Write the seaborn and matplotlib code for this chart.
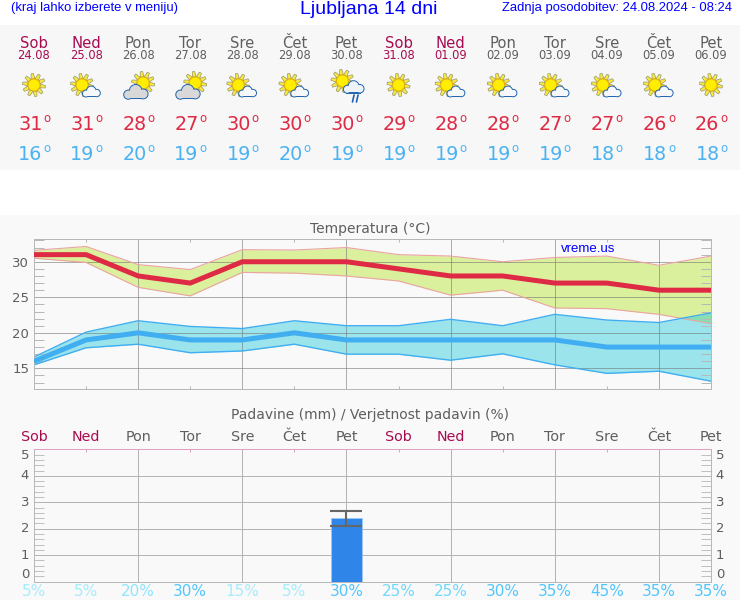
import numpy as np
import pandas as pd
import matplotlib
matplotlib.use("Agg")
import matplotlib.pyplot as plt
from matplotlib.patches import Circle, Rectangle, Polygon
import seaborn as sns

days = ["Sob", "Ned", "Pon", "Tor", "Sre", "Čet", "Pet", "Sob", "Ned", "Pon", "Tor", "Sre", "Čet", "Pet"]
dates = ["24.08", "25.08", "26.08", "27.08", "28.08", "29.08", "30.08", "31.08", "01.09", "02.09", "03.09", "04.09", "05.09", "06.09"]
icons = ["sun", "part", "most", "most", "part", "part", "rain", "sun", "part", "part", "part", "part", "part", "sun"]
t_max = [31, 31, 28, 27, 30, 30, 30, 29, 28, 28, 27, 27, 26, 26]
t_min = [16, 19, 20, 19, 19, 20, 19, 19, 19, 19, 19, 18, 18, 18]
max_hi = [31.6, 32.15, 29.6, 28.9, 31.7, 31.65, 32.0, 31.0, 30.8, 30.0, 30.6, 30.8, 29.5, 30.8]
max_lo = [30.5, 29.9, 26.4, 25.2, 28.5, 28.4, 28.0, 27.3, 25.3, 26.0, 23.5, 23.4, 22.6, 21.3]
min_hi = [16.6, 20.1, 21.7, 20.9, 20.6, 21.7, 21.0, 21.0, 21.9, 21.0, 22.6, 21.8, 21.45, 22.8]
min_lo = [15.5, 17.9, 18.4, 17.2, 17.45, 18.4, 17.0, 17.0, 16.15, 17.05, 15.5, 14.3, 14.6, 13.2]
rain = [0, 0, 0, 0, 0, 0, 2.4, 0, 0, 0, 0, 0, 0, 0]
rain_hi = 2.67
rain_lo = 2.1
prob = [5, 5, 20, 30, 15, 5, 30, 25, 25, 30, 35, 45, 35, 35]

RED = "#de2a44"
BLUE = "#40aef0"
WEEKEND = "#a80a50"
GRAY = "#5e5e5e"
LINK = "#0000ff"
SANS = "Liberation Sans"
W, H = 740, 600
PX = 0.72

sns.set_theme(style="white")
plt.rcParams["font.family"] = ["DejaVu Sans"]
fig = plt.figure(figsize=(W / 100, H / 100), dpi=100, facecolor="white")


def px_axes(x0, y0, x1, y1, **kw):
    return fig.add_axes([x0 / W, 1 - y1 / H, (x1 - x0) / W, (y1 - y0) / H], **kw)


bg = fig.add_axes([0, 0, 1, 1], zorder=0)
bg.set_xlim(0, W)
bg.set_ylim(H, 0)
bg.axis("off")
bg.add_patch(Rectangle((0, 25), W, 145, fc="#f7f7f7", ec="none"))
bg.add_patch(Rectangle((0, 215), W, 385, fc="#f9f9f9", ec="none"))

top = fig.add_axes([0, 0, 1, 1], zorder=5, facecolor="none")
top.set_xlim(0, W)
top.set_ylim(H, 0)
top.axis("off")


def draw_sun(cx, cy, r=6.0, ray=11.5):
    for a in np.arange(0, 360, 36) + 9:
        t = np.radians(a)
        d = np.array([np.cos(t), np.sin(t)])
        n = np.array([-d[1], d[0]])
        c = np.array([cx, cy])
        pts = [c + d * (r + .2) + n * 1.9, c + d * ray + n * 1.2,
               c + d * ray - n * 1.2, c + d * (r + .2) - n * 1.9]
        top.add_patch(Polygon(pts, fc="#f6e840", ec="#8f8f6a", lw=.45, zorder=2))
    top.add_patch(Circle((cx, cy), r, fc="#ffee00", ec="#eeb000", lw=.7, zorder=3))


def draw_cloud(cx, cy, w, fill, edge="#1f64ae"):
    s = w / 28
    parts = [(-8.8, 2.4, 4.6), (-0.5, -1.8, 6.6), (7.8, 1.6, 5.0)]
    for dx, dy, r in parts:
        top.add_patch(Circle((cx + dx * s, cy + dy * s), r * s, fc=fill, ec=edge, lw=1.4, zorder=4))
    top.add_patch(Rectangle((cx - 8.8 * s, cy + 1 * s), 16.6 * s, 5.7 * s, fc=fill, ec=edge, lw=1.4, zorder=4))
    for dx, dy, r in parts:
        top.add_patch(Circle((cx + dx * s, cy + dy * s), r * s, fc=fill, ec="none", zorder=4.2))
    top.add_patch(Rectangle((cx - 8.8 * s, cy + 1 * s), 16.6 * s, 5 * s, fc=fill, ec="none", zorder=4.2))


def draw_icon(kind, x):
    if kind == "sun":
        draw_sun(x, 85)
    elif kind == "part":
        draw_sun(x - 4, 85)
        draw_cloud(x + 5.5, 92, 18, "#f6f8fb")
    elif kind == "most":
        draw_sun(x + 5, 83)
        draw_cloud(x - 2, 92.5, 25, "#d8d8d8")
    else:
        draw_sun(x - 4, 81)
        draw_cloud(x + 7.5, 87.5, 21, "#eef3f8")
        for dx in (6, 10):
            top.plot([x + dx, x + dx + 1.6], [102, 95], color="#1f64ae", lw=1.2, zorder=4)


def temp_text(x, y, value, color):
    top.text(x + 8.5, y, str(value), color=color, fontsize=13.8, ha="right", va="center")
    top.text(x + 9, y - 6.5, "o", color=color, fontsize=8.5, ha="left", va="center")


col_x = 34 + np.arange(14) * (677 / 13)
for i, x in enumerate(col_x):
    c = WEEKEND if days[i] in ("Sob", "Ned") else GRAY
    top.text(x, 43, days[i], color=c, fontsize=10.6, ha="center", va="center")
    top.text(x, 55.5, dates[i], color=c, fontsize=8.3, ha="center", va="center")
    draw_icon(icons[i], x)
    temp_text(x, 125, t_max[i], RED)
    temp_text(x, 155, t_min[i], "#4ab2f2")

top.text(11, 8.5, "(kraj lahko izberete v meniju)", color=LINK, family=SANS, fontsize=9.4, ha="left", va="center")
top.text(369, 10, "Ljubljana 14 dni", color=LINK, family=SANS, fontsize=14, ha="center", va="center")
top.text(732, 8.5, "Zadnja posodobitev: 24.08.2024 - 08:24", color=LINK, family=SANS, fontsize=9.33, ha="right", va="center")
top.text(370, 229, "Temperatura (°C)", color=GRAY, fontsize=10, ha="center", va="center")
top.text(370, 415, "Padavine (mm) / Verjetnost padavin (%)", color=GRAY, fontsize=10, ha="center", va="center")
top.text(561, 249, "vreme.us", color=LINK, family=SANS, fontsize=9.5, ha="left", va="center")

idx = np.arange(14)
frame = pd.DataFrame({"idx": idx, "tmax": t_max, "tmin": t_min, "rain": rain})

# temperature panel
ax = px_axes(34, 239, 711, 389, zorder=2, facecolor="none")
ax.fill_between(idx, max_lo, max_hi, color="#dbf09c", lw=0, zorder=1)
ax.fill_between(idx, min_lo, min_hi, color=(15 / 255, 197 / 255, 217 / 255, .4), lw=0, zorder=1.1)
sns.lineplot(x=idx, y=max_hi, ax=ax, color="#eba3a3", lw=.8, errorbar=None, zorder=1.6)
sns.lineplot(x=idx, y=max_lo, ax=ax, color="#eba3a3", lw=.8, errorbar=None, zorder=1.6)
sns.lineplot(x=idx, y=min_hi, ax=ax, color=BLUE, lw=1.0, errorbar=None, zorder=1.6)
sns.lineplot(x=idx, y=min_lo, ax=ax, color=BLUE, lw=1.0, errorbar=None, zorder=1.6)
sns.lineplot(data=frame, x="idx", y="tmin", ax=ax, color=BLUE, lw=3.6, errorbar=None, zorder=3,
             solid_capstyle="butt", solid_joinstyle="miter")
sns.lineplot(data=frame, x="idx", y="tmax", ax=ax, color=RED, lw=3.6, errorbar=None, zorder=3,
             solid_capstyle="butt", solid_joinstyle="miter")
ax.set_xlim(0, 13)
ax.set_ylim(12.1, 33.2)
ax.set_xlabel("")
ax.set_ylabel("")
ax.set_yticks([15, 20, 25, 30])
ax.set_yticklabels(["15", "20", "25", "30"], color=GRAY, fontsize=9.5)
ax.set_xticks(np.arange(0, 14, 2))
ax.set_xticklabels([])
ax.grid(True, color="#707070", alpha=.55, lw=PX)
ax.set_axisbelow("line")
ax.tick_params(axis="both", which="major", length=0, pad=3.5)
ax.set_xticks(np.arange(1, 14, 2), minor=True)
minor_t = [v for v in range(13, 34) if v % 5 != 0]
ax.set_yticks(minor_t, minor=True)
ax.tick_params(axis="y", which="minor", left=True, right=True, direction="in", length=7.5, width=PX, color="#b8b8b8")
ax.tick_params(axis="x", which="minor", top=True, bottom=True, direction="in", length=2, width=PX, color="#b8b8b8")
for s in ax.spines.values():
    s.set_visible(True)
    s.set_color("#b8b8b8")
    s.set_linewidth(PX)

# precipitation panel
ax2 = px_axes(34, 449.4, 711, 581.5, zorder=2, facecolor="none")
sns.barplot(data=frame, x="idx", y="rain", ax=ax2, native_scale=True, width=.6, color="#2f86e8",
            saturation=1, edgecolor="#9cc8f2", linewidth=.6, errorbar=None, zorder=2)
ax2.errorbar(idx[6], rain[6], yerr=[[rain[6] - rain_lo], [rain_hi - rain[6]]], color="#666666", lw=1.5,
             capsize=11.2, capthick=1.5, zorder=4)
ax2.set_xlim(0, 13)
ax2.set_ylim(0, 5)
ax2.set_xlabel("")
ax2.set_ylabel("")
ax2.set_xticks(np.arange(0, 14, 2))
ax2.set_xticklabels([])
ax2.set_xticks(np.arange(1, 14, 2), minor=True)
ax2.set_yticks(range(6))
ax2.set_yticklabels([str(v) for v in range(6)], color=GRAY, fontsize=9.5)
ax2.grid(True, color="#b4b4b4", lw=PX)
ax2.set_axisbelow(True)
ax2.tick_params(axis="both", which="major", length=0, pad=3.5)
ax2.tick_params(axis="y", labelright=True, right=False)
vas = {0: "bottom", 5: "top"}
for tick, v in zip(ax2.yaxis.get_major_ticks(), range(6)):
    for lab in (tick.label1, tick.label2):
        lab.set_color(GRAY)
        lab.set_fontsize(9.5)
        lab.set_verticalalignment(vas.get(v, "center"))
ax2.set_yticks([v / 5 for v in range(26) if v % 5 != 0], minor=True)
ax2.tick_params(axis="y", which="minor", left=True, right=True, direction="in", length=7.5, width=PX, color="#c0c0c0")
ax2.tick_params(axis="x", which="minor", top=True, bottom=False, direction="in", length=2, width=PX, color="#e0a0c0")
for s in ax2.spines.values():
    s.set_visible(True)
    s.set_color("#b8b8b8")
    s.set_linewidth(PX)
ax2.spines["top"].set_color("#e0a0c0")

for i, x in enumerate(col_x):
    c = WEEKEND if days[i] in ("Sob", "Ned") else GRAY
    top.text(x, 437, days[i], color=c, fontsize=10.3, ha="center", va="center")
    if prob[i] < 20:
        pc = "#a6ecfb"
    elif prob[i] == 20:
        pc = "#90e4fb"
    elif prob[i] == 25:
        pc = "#72d8fb"
    else:
        pc = "#52c6fb"
    top.text(x, 591.5, f"{prob[i]}%", color=pc, fontsize=11, ha="center", va="center")

fig.savefig("out.png", dpi=100, facecolor="white")
